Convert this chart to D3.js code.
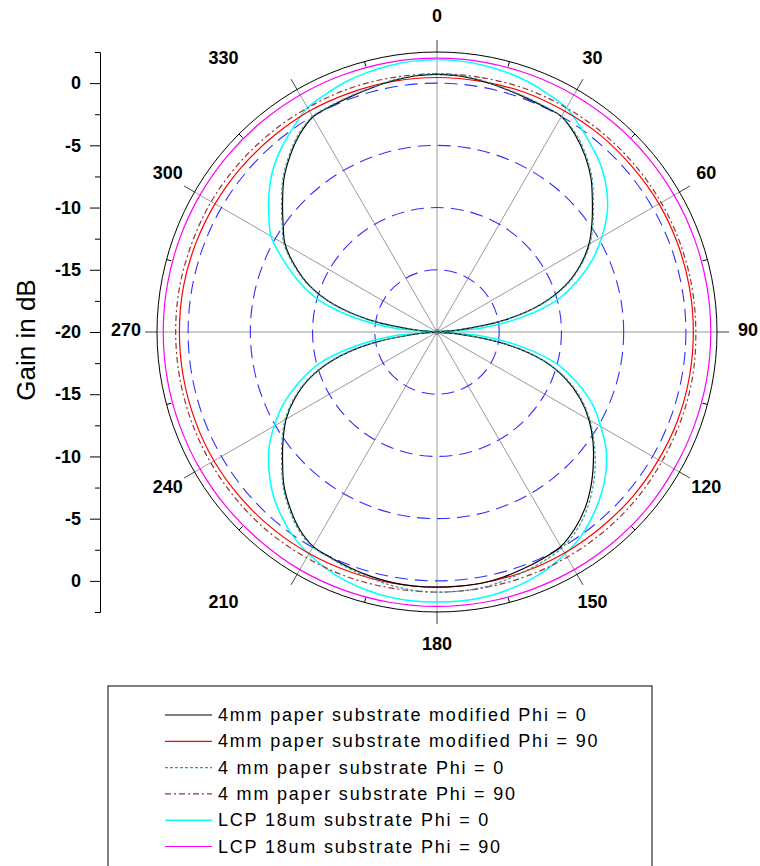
<!DOCTYPE html>
<html>
<head>
<meta charset="utf-8">
<script src="https://cdn.jsdelivr.net/npm/d3@7"></script>
<style>
  body { margin: 0; background: #fff; }
  svg { display: block; }
  text { font-family: "Liberation Sans", Arial, sans-serif; }
</style>
</head>
<body>
<svg id="chart" width="760" height="866"></svg>
<script>
// angles in degrees (0 = top, clockwise)
const anglesFine = d3.range(0, 360, 5);
const anglesCoarse = d3.range(0, 360, 10);

// Phi = 0 cuts, every 5 degrees (values in dB, below -20 falls into the centre)
const modPhi0 = [
  0.7, 0.65, 0.5, 0.3, 0.15, 0.05, 0.0, -0.65, -1.5, -2.5, -3.7, -4.8, -5.9, -7.3, -9.0, -11.3, -14.5, -18.5,
  -25, -18.5, -14.4, -11.2, -9.0, -7.3, -5.9, -4.7, -3.6, -2.5, -1.5, -0.7, -0.1, 0.1, 0.25, 0.4, 0.5, 0.5,
  0.5, 0.5, 0.45, 0.35, 0.2, 0.05, -0.1, -0.7, -1.6, -2.6, -3.8, -4.9, -6.0, -7.4, -9.1, -11.4, -14.6, -18.6,
  -25, -18.6, -14.6, -11.4, -9.1, -7.4, -5.9, -4.9, -3.8, -2.6, -1.6, -0.7, -0.05, 0.05, 0.15, 0.3, 0.5, 0.65
];
const paperPhi0 = [
  0.75, 0.7, 0.55, 0.35, 0.2, 0.1, 0.0, -0.55, -1.4, -2.4, -3.6, -4.7, -5.8, -7.2, -8.9, -11.2, -14.4, -18.3,
  -25, -18.3, -14.3, -11.1, -8.9, -7.2, -5.8, -4.6, -3.4, -2.3, -1.3, -0.5, 0.05, 0.3, 0.5, 0.7, 0.85, 0.9,
  0.9, 0.85, 0.7, 0.5, 0.3, 0.1, -0.05, -0.6, -1.5, -2.5, -3.7, -4.8, -5.9, -7.3, -9.0, -11.3, -14.5, -18.4,
  -25, -18.4, -14.5, -11.3, -9.0, -7.3, -5.8, -4.8, -3.7, -2.5, -1.5, -0.6, 0.0, 0.1, 0.2, 0.35, 0.55, 0.7
];
const lcpPhi0 = [
  1.9, 1.85, 1.75, 1.6, 1.4, 1.1, 0.8, 0.1, -0.6, -1.3, -2.2, -3.3, -4.7, -6.2, -8.0, -10.0, -13.0, -16.5,
  -25, -16.5, -13.0, -10.0, -8.0, -6.2, -4.8, -3.4, -2.3, -1.4, -0.6, 0.1, 0.6, 1.0, 1.3, 1.5, 1.65, 1.7,
  1.7, 1.7, 1.65, 1.5, 1.3, 1.0, 0.6, 0.1, -0.6, -1.4, -2.4, -3.5, -4.9, -6.4, -8.2, -10.2, -13.2, -16.6,
  -25, -16.6, -13.2, -10.2, -8.2, -6.4, -4.6, -3.5, -2.4, -1.4, -0.6, 0.1, 0.8, 1.1, 1.4, 1.6, 1.75, 1.85
];

// Phi = 90 cuts, every 10 degrees
const modPhi90 = [
  0.45, 0.45, 0.5, 0.5, 0.55, 0.55, 0.6, 0.6, 0.6, 0.6, 0.6, 0.6, 0.55, 0.55, 0.5, 0.5, 0.5, 0.5,
  0.5, 0.5, 0.5, 0.55, 0.6, 0.65, 0.7, 0.7, 0.7, 0.7, 0.7, 0.65, 0.6, 0.55, 0.5, 0.5, 0.45, 0.45
];
const paperPhi90 = [
  0.75, 0.75, 0.8, 0.8, 0.8, 0.8, 0.8, 0.8, 0.8, 0.8, 0.85, 0.85, 0.85, 0.9, 0.9, 0.9, 0.9, 0.9,
  0.9, 0.9, 0.95, 0.95, 1.0, 1.0, 1.0, 1.0, 1.0, 1.0, 1.0, 0.95, 0.95, 0.9, 0.85, 0.8, 0.8, 0.75
];
const lcpPhi90 = [
  2.0, 2.0, 2.0, 2.0, 2.0, 2.0, 2.0, 2.0, 2.0, 2.0, 2.0, 2.0, 2.0, 2.05, 2.05, 2.05, 2.05, 2.05,
  2.05, 2.05, 2.05, 2.05, 2.0, 2.0, 2.0, 2.0, 2.0, 2.0, 2.0, 2.0, 2.0, 2.0, 2.0, 2.0, 2.0, 2.0
];

const seriesNames = [
  "4mm paper substrate modified Phi = 0",
  "4mm paper substrate modified Phi = 90",
  "4 mm paper substrate Phi = 0",
  "4 mm paper substrate Phi = 90",
  "LCP 18um substrate Phi = 0",
  "LCP 18um substrate Phi = 90"
];
const gridRings = [-15, -10, -5, 0];
const majorTicks = [-20, -15, -10, -5, 0];
const minorTicks = [-17.5, -12.5, -7.5, -2.5, 2.5];
const angleLabels = [0, 30, 60, 90, 120, 150, 180, 210, 240, 270, 300, 330];

// legend order = seriesNames order
const series = [
  { name: seriesNames[0], angles: anglesFine, values: modPhi0, color: "#000000", dash: null, width: 1.2, z: 4 },
  { name: seriesNames[1], angles: anglesCoarse, values: modPhi90, color: "#ff0000", dash: null, width: 1.2, z: 2 },
  { name: seriesNames[2], angles: anglesFine, values: paperPhi0, color: "#339999", dash: "3,2", width: 1.2, z: 5 },
  { name: seriesNames[3], angles: anglesCoarse, values: paperPhi90, color: "#993333", dash: "6,3,2,3", width: 1.2, z: 3 },
  { name: seriesNames[4], angles: anglesFine, values: lcpPhi0, color: "#00ffff", dash: null, width: 1.5, z: 1 },
  { name: seriesNames[5], angles: anglesCoarse, values: lcpPhi90, color: "#ff00ff", dash: null, width: 1.2, z: 0 }
];

const svg = d3.select("#chart");
const cx = 437, cy = 332, R = 280;
const labelRx = 311, labelRy = 314;
// the 330 and 210 labels sit further left in the original
const labelShift = a => (a === 330 || a === 210) ? -58 : 0;

const r = d3.scaleLinear().domain([-20, 2.5]).range([0, R]).clamp(true);
const rad = d => d * Math.PI / 180;

const plot = svg.append("g").attr("transform", `translate(${cx},${cy})`);

// spokes
plot.selectAll(".spoke")
  .data(angleLabels)
  .enter().append("line")
  .attr("x1", 0).attr("y1", 0)
  .attr("x2", d => R * Math.sin(rad(d)))
  .attr("y2", d => -R * Math.cos(rad(d)))
  .attr("stroke", "#9a9a9a")
  .attr("stroke-width", 1);

plot.selectAll(".spoke-out")
  .data(angleLabels)
  .enter().append("line")
  .attr("x1", d => R * Math.sin(rad(d)))
  .attr("y1", d => -R * Math.cos(rad(d)))
  .attr("x2", d => (R + 12) * Math.sin(rad(d)))
  .attr("y2", d => -(R + 12) * Math.cos(rad(d)))
  .attr("stroke", "#404040")
  .attr("stroke-width", 1);

// minor ticks on outer ring
plot.selectAll(".minor")
  .data(angleLabels.map(d => d + 15))
  .enter().append("line")
  .attr("x1", d => R * Math.sin(rad(d)))
  .attr("y1", d => -R * Math.cos(rad(d)))
  .attr("x2", d => (R - 5) * Math.sin(rad(d)))
  .attr("y2", d => -(R - 5) * Math.cos(rad(d)))
  .attr("stroke", "#000")
  .attr("stroke-width", 1);

// dashed rings
plot.selectAll(".ring")
  .data(gridRings)
  .enter().append("circle")
  .attr("r", d => r(d))
  .attr("fill", "none")
  .attr("stroke", "#3030ff")
  .attr("stroke-width", 1.1)
  .attr("stroke-dasharray", "13,7");

plot.append("circle")
  .attr("r", 3)
  .attr("fill", "#8a8a8a");

// curves
const line = d3.lineRadial()
  .angle(d => rad(d[0]))
  .radius(d => r(d[1]))
  .curve(d3.curveCatmullRomClosed.alpha(0.5));

plot.selectAll(".curve")
  .data(series.slice().sort((a, b) => a.z - b.z))
  .enter().append("path")
  .attr("d", s => line(s.angles.map((a, i) => [a, s.values[i]])))
  .attr("fill", "none")
  .attr("stroke", s => s.color)
  .attr("stroke-width", s => s.width)
  .attr("stroke-dasharray", s => s.dash);

// outer ring
plot.append("circle")
  .attr("r", R)
  .attr("fill", "none")
  .attr("stroke", "#000")
  .attr("stroke-width", 1);

// angle labels
plot.selectAll(".alabel")
  .data(angleLabels)
  .enter().append("text")
  .attr("x", d => labelRx * Math.sin(rad(d)) + labelShift(d))
  .attr("y", d => -labelRy * Math.cos(rad(d)) - 2)
  .attr("text-anchor", "middle")
  .attr("dominant-baseline", "central")
  .style("font-size", "18px")
  .style("font-weight", "bold")
  .text(d => d);

// left gain axis (upper and lower halves)
const axisX = 100;
const yUp = d3.scaleLinear().domain([-20, 2.5]).range([cy, cy - R]);
const yDn = d3.scaleLinear().domain([-20, 2.5]).range([cy, cy + R]);

function gainAxis(scale, labelled) {
  const g = svg.append("g").attr("transform", `translate(${axisX},0)`);
  g.append("g")
    .call(d3.axisLeft(scale).tickValues(minorTicks).tickSize(5).tickSizeOuter(0).tickFormat(""));
  const major = g.append("g")
    .call(d3.axisLeft(scale).tickValues(labelled).tickSize(10).tickSizeOuter(0)
      .tickPadding(9).tickFormat(d => String(d)));
  major.selectAll("text")
    .style("font-size", "18px")
    .style("font-weight", "bold")
    .style("font-family", "'Liberation Sans', Arial, sans-serif")
    .attr("fill", "#000");
  g.selectAll("path, line").attr("stroke", "#000");
}
gainAxis(yUp, majorTicks);
gainAxis(yDn, majorTicks.filter(d => d !== -20));

svg.append("text")
  .attr("transform", `translate(35,${cy + 8}) rotate(-90)`)
  .attr("text-anchor", "middle")
  .style("font-size", "26px")
  .text("Gain in dB");

// legend
const legend = svg.append("g");
legend.append("rect")
  .attr("x", 108).attr("y", 686)
  .attr("width", 544).attr("height", 220)
  .attr("fill", "#fff")
  .attr("stroke", "#000");

const items = legend.selectAll(".item")
  .data(series)
  .enter().append("g")
  .attr("transform", (d, i) => `translate(0,${715 + i * 26.3})`);

items.append("line")
  .attr("x1", 165).attr("x2", 212)
  .attr("stroke", d => d.color)
  .attr("stroke-width", d => d.width)
  .attr("stroke-dasharray", d => d.dash);

items.append("text")
  .attr("x", 218)
  .attr("dominant-baseline", "central")
  .style("font-size", "18px")
  .style("letter-spacing", "1.8px")
  .text(d => d.name);
</script>
</body>
</html>
